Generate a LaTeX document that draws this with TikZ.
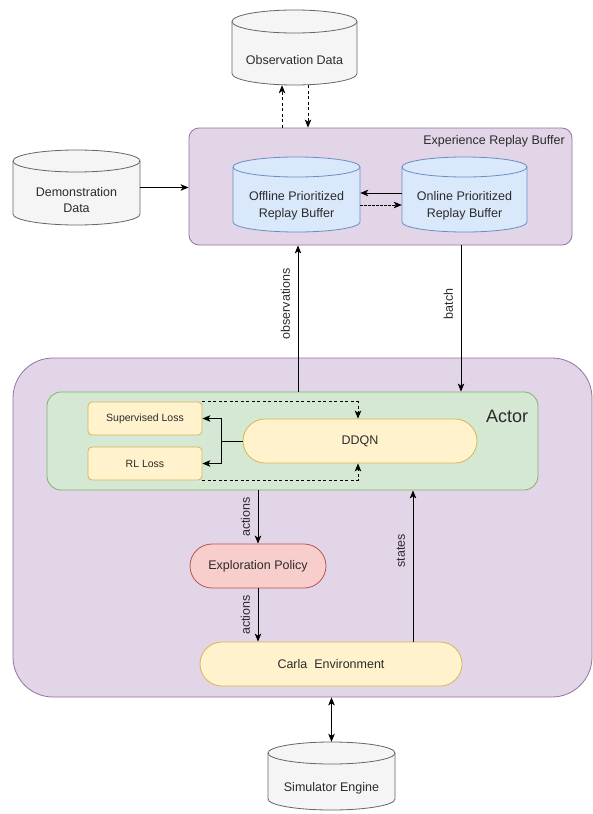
\documentclass[tikz,border=0pt]{standalone}
\usepackage{fontspec}
\setmainfont{Liberation Sans}
\usetikzlibrary{arrows.meta}

\definecolor{purpFill}{HTML}{E1D5E7}
\definecolor{purpLine}{HTML}{9673A6}
\definecolor{greenFill}{HTML}{D5E8D4}
\definecolor{greenLine}{HTML}{82B366}
\definecolor{yelFill}{HTML}{FFF2CC}
\definecolor{yelLine}{HTML}{D6B656}
\definecolor{redFill}{HTML}{F8CECC}
\definecolor{redLine}{HTML}{B85450}
\definecolor{blueFill}{HTML}{DAE8FC}
\definecolor{blueLine}{HTML}{6C8EBF}
\definecolor{greyFill}{HTML}{F5F5F5}
\definecolor{greyLine}{HTML}{666666}
\definecolor{ink}{HTML}{2B2B2B}

% database cylinder: name, left, top, right, bottom, cap half-height, colour style, label
\newcommand\dbcyl[8]{%
  \pgfmathsetmacro\cylrx{(#4-#2)/2}%
  \pgfmathsetmacro\cylcx{(#4+#2)/2}%
  \pgfmathsetmacro\cylcy{(#3+#5)/2}%
  \pgfmathsetmacro\cylw{#4-#2}%
  \pgfmathsetmacro\cylh{#5-#3}%
  \pgfmathsetmacro\cylty{(#3+2*#6+#5)/2+1.5}%
  \path[#7] (#2,#3+#6) -- (#2,#5-#6)
     arc[start angle=180,end angle=360,x radius=\cylrx pt,y radius=#6pt]
     -- (#4,#3+#6)
     arc[start angle=0,end angle=180,x radius=\cylrx pt,y radius=#6pt] -- cycle;
  \draw[#7,fill=none] (#2,#3+#6)
     arc[start angle=180,end angle=360,x radius=\cylrx pt,y radius=#6pt];
  \node[minimum width=\cylw pt,minimum height=\cylh pt,inner sep=0pt] (#1) at (\cylcx,\cylcy) {};
  \node[txt,align=center] (#1-t) at (\cylcx,\cylty) {#8};
}

\begin{document}
\begin{tikzpicture}[x=1pt,y=-1pt,
  txt/.style={font=\fontsize{12.5}{16.5}\selectfont,text=ink},
  greycyl/.style={fill=greyFill,draw=greyLine,line width=0.8pt},
  bluecyl/.style={fill=blueFill,draw=blueLine,line width=0.8pt},
  panel/.style={line width=0.8pt,inner sep=0pt},
  lossbox/.style={txt,font=\fontsize{10.5}{12}\selectfont,fill=yelFill,draw=yelLine,
    line width=0.8pt,rounded corners=4pt,minimum width=114pt,minimum height=33pt,inner sep=0pt},
  pill/.style={txt,line width=0.8pt,rounded corners=22pt,minimum height=44pt,inner sep=0pt},
  tip/.style={Stealth[length=8pt,width=6.5pt,inset=2pt]},
  arr/.style={-{Stealth[length=8pt,width=6.5pt,inset=2pt]},line width=1pt,draw=black},
  dasharr/.style={arr,dash pattern=on 3pt off 2.5pt},
  dotarr/.style={arr,line width=0.8pt,dash pattern=on 2.5pt off 1.5pt},
  lbl/.style={txt,rotate=90,anchor=south,inner sep=0pt,outer sep=8pt}]

\path[use as bounding box,fill=white] (0,0) rectangle (593,814);

% containers
\node[panel,fill=purpFill,draw=purpLine,rounded corners=40pt,
  minimum width=579pt,minimum height=339pt] (loop) at (302.5,527.5) {};
\node[panel,fill=purpFill,draw=purpLine,rounded corners=10pt,
  minimum width=383pt,minimum height=117pt] (erb) at (380.5,186.5) {};
\node[txt,anchor=east,inner sep=0pt] (erb-t) at (565,141) {Experience Replay Buffer};
\node[panel,fill=greenFill,draw=greenLine,rounded corners=14pt,
  minimum width=491pt,minimum height=98pt] (actor) at (292.5,441) {};
\node[txt,font=\fontsize{18}{20}\selectfont] (actor-t) at (507,416) {Actor};

% data stores
\dbcyl{obs}{232}{10}{357}{85}{11.5}{greycyl}{Observation Data}
\dbcyl{demo}{13}{150}{140}{225}{11}{greycyl}{Demonstration\\Data}
\dbcyl{off}{233}{157}{360}{232}{10}{bluecyl}{Offline Prioritized\\Replay Buffer}
\dbcyl{on}{402}{157}{527}{232}{10}{bluecyl}{Online Prioritized\\Replay Buffer}
\dbcyl{sim}{268}{742}{395}{810}{11}{greycyl}{Simulator Engine}

% actor internals
\node[lossbox] (sup) at (145,418.5) {Supervised Loss};
\node[lossbox] (rl) at (145,463.5) {RL Loss};
\node[pill,fill=yelFill,draw=yelLine,minimum width=234pt] (ddqn) at (360,441) {DDQN};

% environment loop
\node[pill,fill=redFill,draw=redLine,minimum width=136pt] (explore) at (258,566) {Exploration Policy};
\node[pill,fill=yelFill,draw=yelLine,minimum width=262pt] (carla) at (331,664) {Carla\ \ Environment};

% connectors
\draw[dasharr] ([xshift=-12.5pt]obs.south |- erb.north) -- ([xshift=-12.5pt]obs.south);
\draw[dasharr] ([xshift=13.5pt]obs.south) -- ([xshift=13.5pt]obs.south |- erb.north);
\draw[arr] (demo.east) -- (demo.east -| erb.west);
\draw[arr] ([yshift=1.5pt]on.west) -- ([yshift=1.5pt]on.west -| off.east);
\draw[dotarr] ([yshift=-10.5pt]off.east) -- ([yshift=-10.5pt]off.east -| on.west);

\draw[arr] ([xshift=5.5pt]actor.north) -- ([xshift=5.5pt]actor.north |- erb.south)
  node[lbl,pos=0.6] {observations};
\draw[arr] ([xshift=80.5pt]erb.south) -- ([xshift=80.5pt]erb.south |- actor.north)
  node[lbl,pos=0.4] {batch};

\coordinate (fork) at ([xshift=-21pt]ddqn.west);
\draw[arr] (ddqn.west) -- (fork) |- (sup.east);
\draw[arr] (fork) |- (rl.east);
\draw[dasharr] (sup.north east) -| ([xshift=-2pt]ddqn.north);
\draw[dasharr] (rl.south east) -| ([xshift=-2pt]ddqn.south);

\draw[arr] (explore.north |- actor.south) -- (explore.north) node[lbl,midway] {actions};
\draw[arr] (explore.south) -- (explore.south |- carla.north) node[lbl,midway] {actions};
\draw[arr] ([xshift=82pt]carla.north) -- ([xshift=82pt]carla.north |- actor.south)
  node[lbl,pos=0.6] {states};

\draw[{Stealth[length=8pt,width=6.5pt,inset=2pt]}-{Stealth[length=8pt,width=6.5pt,inset=2pt]},line width=1pt]
  (sim.north |- loop.south) -- (sim.north);

\end{tikzpicture}
\end{document}
